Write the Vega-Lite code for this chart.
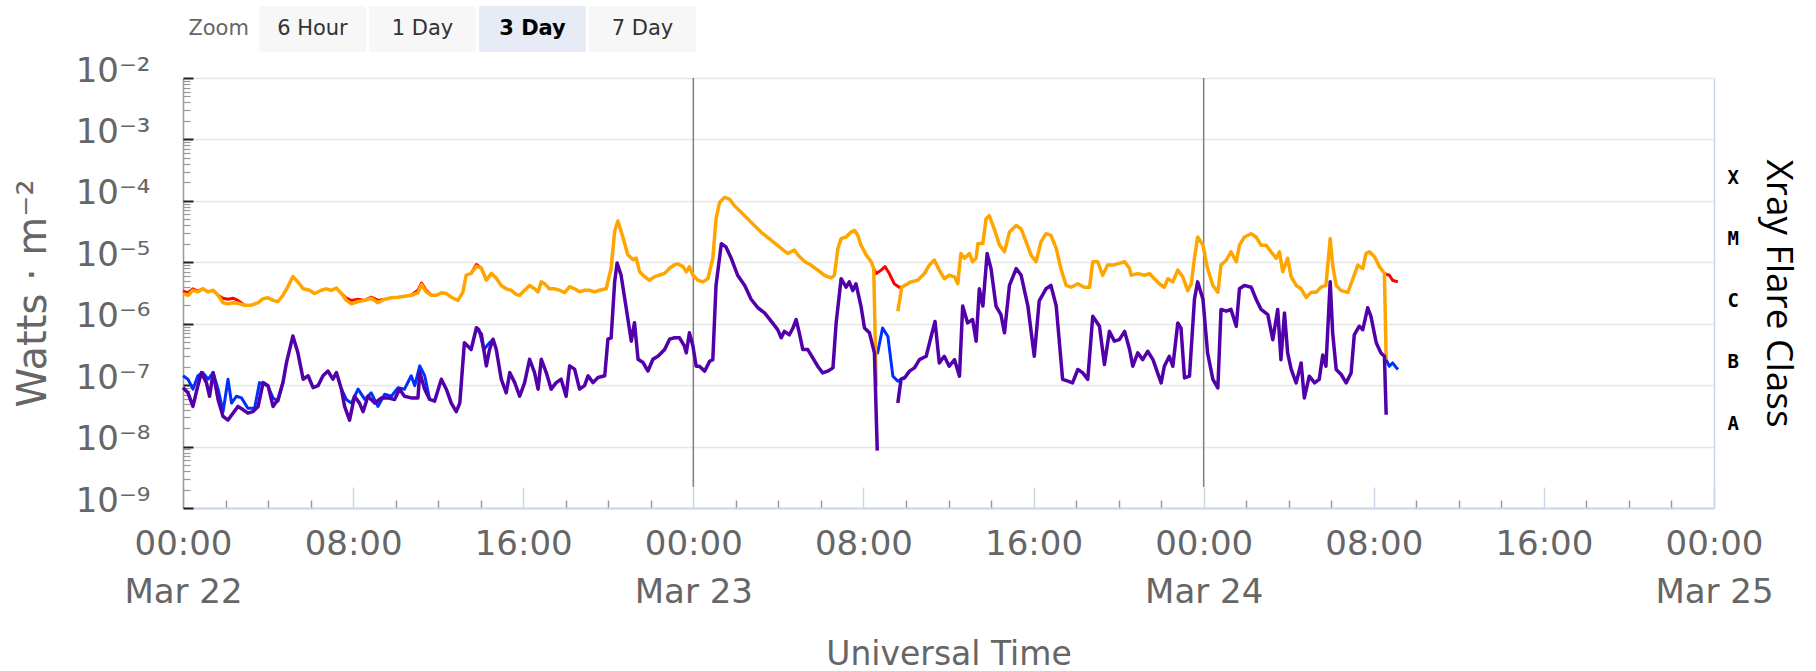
{
  "$schema": "https://vega.github.io/schema/vega-lite/v6.json",
  "autosize": {"type": "pad"},
  "padding": {"left": 13, "top": 6, "right": 15, "bottom": 0},
  "bounds": "flush",
  "spacing": 26,
  "config": {"view": {"stroke": null}, "axis": {"labelFont": "DejaVu Sans", "titleFont": "DejaVu Sans"}},
  "vconcat": [
    {
      "width": 589,
      "height": 46,
      "data": {"values": [{"b": "6 Hour", "sel": 0}, {"b": "1 Day", "sel": 0}, {"b": "3 Day", "sel": 1}, {"b": "7 Day", "sel": 0}]},
      "encoding": {"x": {"field": "b", "type": "nominal", "sort": null, "scale": {"paddingInner": 0.027, "paddingOuter": 0.69}, "axis": null}},
      "layer": [
        {"mark": {"type": "bar", "cornerRadius": 2}, "encoding": {"color": {"condition": {"test": "datum.sel == 1", "value": "#e6ebf5"}, "value": "#f7f7f7"}}},
        {"transform": [{"filter": "datum.sel == 0"}], "mark": {"type": "text", "font": "DejaVu Sans", "fontSize": 21, "color": "#333333"}, "encoding": {"text": {"field": "b"}}},
        {"transform": [{"filter": "datum.sel == 1"}], "mark": {"type": "text", "font": "DejaVu Sans", "fontSize": 21, "fontWeight": "bold", "color": "#000000"}, "encoding": {"text": {"field": "b"}}},
        {"data": {"values": [{"b": "6 Hour", "z": "Zoom"}]}, "mark": {"type": "text", "font": "DejaVu Sans", "fontSize": 21, "align": "right", "dx": -10, "color": "#666666"}, "encoding": {"x": {"field": "b", "type": "nominal", "bandPosition": 0}, "text": {"field": "z"}}}
      ]
    },
    {
      "width": 1531,
      "height": 430,
      "data": {"values": [
        {"t":"2024-03-22T00:00:00Z","v":3.1e-6,"c":"long","s":"o1"},
        {"t":"2024-03-22T00:14:00Z","v":2.9e-6,"c":"long","s":"o1"},
        {"t":"2024-03-22T00:28:00Z","v":3.5e-6,"c":"long","s":"o1"},
        {"t":"2024-03-22T00:42:00Z","v":3.3e-6,"c":"long","s":"o1"},
        {"t":"2024-03-22T00:56:00Z","v":3.7e-6,"c":"long","s":"o1"},
        {"t":"2024-03-22T01:11:00Z","v":3.3e-6,"c":"long","s":"o1"},
        {"t":"2024-03-22T01:25:00Z","v":3.5e-6,"c":"long","s":"o1"},
        {"t":"2024-03-22T01:39:00Z","v":2.9e-6,"c":"long","s":"o1"},
        {"t":"2024-03-22T01:53:00Z","v":2.2e-6,"c":"long","s":"o1"},
        {"t":"2024-03-22T02:07:00Z","v":2.1e-6,"c":"long","s":"o1"},
        {"t":"2024-03-22T02:21:00Z","v":2.2e-6,"c":"long","s":"o1"},
        {"t":"2024-03-22T02:35:00Z","v":2.15e-6,"c":"long","s":"o1"},
        {"t":"2024-03-22T02:54:00Z","v":2.0e-6,"c":"long","s":"o1"},
        {"t":"2024-03-22T03:13:00Z","v":2.0e-6,"c":"long","s":"o1"},
        {"t":"2024-03-22T03:32:00Z","v":2.2e-6,"c":"long","s":"o1"},
        {"t":"2024-03-22T03:46:00Z","v":2.55e-6,"c":"long","s":"o1"},
        {"t":"2024-03-22T04:00:00Z","v":2.65e-6,"c":"long","s":"o1"},
        {"t":"2024-03-22T04:14:00Z","v":2.4e-6,"c":"long","s":"o1"},
        {"t":"2024-03-22T04:28:00Z","v":2.3e-6,"c":"long","s":"o1"},
        {"t":"2024-03-22T04:42:00Z","v":2.9e-6,"c":"long","s":"o1"},
        {"t":"2024-03-22T04:56:00Z","v":4.0e-6,"c":"long","s":"o1"},
        {"t":"2024-03-22T05:10:00Z","v":5.85e-6,"c":"long","s":"o1"},
        {"t":"2024-03-22T05:24:00Z","v":4.8e-6,"c":"long","s":"o1"},
        {"t":"2024-03-22T05:39:00Z","v":3.7e-6,"c":"long","s":"o1"},
        {"t":"2024-03-22T05:57:00Z","v":3.5e-6,"c":"long","s":"o1"},
        {"t":"2024-03-22T06:11:00Z","v":3.1e-6,"c":"long","s":"o1"},
        {"t":"2024-03-22T06:30:00Z","v":3.5e-6,"c":"long","s":"o1"},
        {"t":"2024-03-22T06:44:00Z","v":3.7e-6,"c":"long","s":"o1"},
        {"t":"2024-03-22T06:58:00Z","v":3.5e-6,"c":"long","s":"o1"},
        {"t":"2024-03-22T07:13:00Z","v":3.8e-6,"c":"long","s":"o1"},
        {"t":"2024-03-22T07:27:00Z","v":3.1e-6,"c":"long","s":"o1"},
        {"t":"2024-03-22T07:41:00Z","v":2.4e-6,"c":"long","s":"o1"},
        {"t":"2024-03-22T07:55:00Z","v":2.1e-6,"c":"long","s":"o1"},
        {"t":"2024-03-22T08:14:00Z","v":2.3e-6,"c":"long","s":"o1"},
        {"t":"2024-03-22T08:33:00Z","v":2.4e-6,"c":"long","s":"o1"},
        {"t":"2024-03-22T08:51:00Z","v":2.6e-6,"c":"long","s":"o1"},
        {"t":"2024-03-22T09:10:00Z","v":2.2e-6,"c":"long","s":"o1"},
        {"t":"2024-03-22T09:29:00Z","v":2.5e-6,"c":"long","s":"o1"},
        {"t":"2024-03-22T09:48:00Z","v":2.65e-6,"c":"long","s":"o1"},
        {"t":"2024-03-22T10:07:00Z","v":2.7e-6,"c":"long","s":"o1"},
        {"t":"2024-03-22T10:25:00Z","v":2.8e-6,"c":"long","s":"o1"},
        {"t":"2024-03-22T10:44:00Z","v":2.9e-6,"c":"long","s":"o1"},
        {"t":"2024-03-22T11:03:00Z","v":3.2e-6,"c":"long","s":"o1"},
        {"t":"2024-03-22T11:13:00Z","v":4.35e-6,"c":"long","s":"o1"},
        {"t":"2024-03-22T11:26:00Z","v":3.3e-6,"c":"long","s":"o1"},
        {"t":"2024-03-22T11:41:00Z","v":2.9e-6,"c":"long","s":"o1"},
        {"t":"2024-03-22T11:55:00Z","v":2.9e-6,"c":"long","s":"o1"},
        {"t":"2024-03-22T12:09:00Z","v":3.2e-6,"c":"long","s":"o1"},
        {"t":"2024-03-22T12:23:00Z","v":3.1e-6,"c":"long","s":"o1"},
        {"t":"2024-03-22T12:37:00Z","v":2.7e-6,"c":"long","s":"o1"},
        {"t":"2024-03-22T12:56:00Z","v":2.4e-6,"c":"long","s":"o1"},
        {"t":"2024-03-22T13:10:00Z","v":3.3e-6,"c":"long","s":"o1"},
        {"t":"2024-03-22T13:19:00Z","v":6.2e-6,"c":"long","s":"o1"},
        {"t":"2024-03-22T13:33:00Z","v":6.6e-6,"c":"long","s":"o1"},
        {"t":"2024-03-22T13:48:00Z","v":8.6e-6,"c":"long","s":"o1"},
        {"t":"2024-03-22T14:02:00Z","v":8.0e-6,"c":"long","s":"o1"},
        {"t":"2024-03-22T14:16:00Z","v":5.1e-6,"c":"long","s":"o1"},
        {"t":"2024-03-22T14:30:00Z","v":6.6e-6,"c":"long","s":"o1"},
        {"t":"2024-03-22T14:44:00Z","v":5.5e-6,"c":"long","s":"o1"},
        {"t":"2024-03-22T14:58:00Z","v":4.2e-6,"c":"long","s":"o1"},
        {"t":"2024-03-22T15:12:00Z","v":3.7e-6,"c":"long","s":"o1"},
        {"t":"2024-03-22T15:26:00Z","v":3.5e-6,"c":"long","s":"o1"},
        {"t":"2024-03-22T15:40:00Z","v":3.0e-6,"c":"long","s":"o1"},
        {"t":"2024-03-22T15:50:00Z","v":2.9e-6,"c":"long","s":"o1"},
        {"t":"2024-03-22T16:04:00Z","v":3.5e-6,"c":"long","s":"o1"},
        {"t":"2024-03-22T16:18:00Z","v":4.2e-6,"c":"long","s":"o1"},
        {"t":"2024-03-22T16:32:00Z","v":3.7e-6,"c":"long","s":"o1"},
        {"t":"2024-03-22T16:42:00Z","v":3.3e-6,"c":"long","s":"o1"},
        {"t":"2024-03-22T16:51:00Z","v":4.8e-6,"c":"long","s":"o1"},
        {"t":"2024-03-22T17:00:00Z","v":4.5e-6,"c":"long","s":"o1"},
        {"t":"2024-03-22T17:14:00Z","v":3.7e-6,"c":"long","s":"o1"},
        {"t":"2024-03-22T17:29:00Z","v":3.7e-6,"c":"long","s":"o1"},
        {"t":"2024-03-22T17:43:00Z","v":3.5e-6,"c":"long","s":"o1"},
        {"t":"2024-03-22T17:57:00Z","v":3.2e-6,"c":"long","s":"o1"},
        {"t":"2024-03-22T18:11:00Z","v":4.0e-6,"c":"long","s":"o1"},
        {"t":"2024-03-22T18:25:00Z","v":3.7e-6,"c":"long","s":"o1"},
        {"t":"2024-03-22T18:39:00Z","v":3.3e-6,"c":"long","s":"o1"},
        {"t":"2024-03-22T18:53:00Z","v":3.5e-6,"c":"long","s":"o1"},
        {"t":"2024-03-22T19:07:00Z","v":3.5e-6,"c":"long","s":"o1"},
        {"t":"2024-03-22T19:21:00Z","v":3.3e-6,"c":"long","s":"o1"},
        {"t":"2024-03-22T19:35:00Z","v":3.5e-6,"c":"long","s":"o1"},
        {"t":"2024-03-22T19:54:00Z","v":3.7e-6,"c":"long","s":"o1"},
        {"t":"2024-03-22T20:08:00Z","v":8.0e-6,"c":"long","s":"o1"},
        {"t":"2024-03-22T20:18:00Z","v":3.2e-5,"c":"long","s":"o1"},
        {"t":"2024-03-22T20:27:00Z","v":4.7e-5,"c":"long","s":"o1"},
        {"t":"2024-03-22T20:41:00Z","v":2.6e-5,"c":"long","s":"o1"},
        {"t":"2024-03-22T20:55:00Z","v":1.33e-5,"c":"long","s":"o1"},
        {"t":"2024-03-22T21:10:00Z","v":1.1e-5,"c":"long","s":"o1"},
        {"t":"2024-03-22T21:19:00Z","v":1.17e-5,"c":"long","s":"o1"},
        {"t":"2024-03-22T21:28:00Z","v":7.1e-6,"c":"long","s":"o1"},
        {"t":"2024-03-22T21:42:00Z","v":5.85e-6,"c":"long","s":"o1"},
        {"t":"2024-03-22T21:56:00Z","v":5.1e-6,"c":"long","s":"o1"},
        {"t":"2024-03-22T22:11:00Z","v":5.85e-6,"c":"long","s":"o1"},
        {"t":"2024-03-22T22:25:00Z","v":6.2e-6,"c":"long","s":"o1"},
        {"t":"2024-03-22T22:39:00Z","v":6.6e-6,"c":"long","s":"o1"},
        {"t":"2024-03-22T22:53:00Z","v":8.0e-6,"c":"long","s":"o1"},
        {"t":"2024-03-22T23:07:00Z","v":9.1e-6,"c":"long","s":"o1"},
        {"t":"2024-03-22T23:16:00Z","v":9.4e-6,"c":"long","s":"o1"},
        {"t":"2024-03-22T23:31:00Z","v":8.5e-6,"c":"long","s":"o1"},
        {"t":"2024-03-22T23:40:00Z","v":7.0e-6,"c":"long","s":"o1"},
        {"t":"2024-03-22T23:49:00Z","v":8.5e-6,"c":"long","s":"o1"},
        {"t":"2024-03-22T23:59:00Z","v":6.15e-6,"c":"long","s":"o1"},
        {"t":"2024-03-23T00:13:00Z","v":5.1e-6,"c":"long","s":"o1"},
        {"t":"2024-03-23T00:27:00Z","v":4.8e-6,"c":"long","s":"o1"},
        {"t":"2024-03-23T00:41:00Z","v":5.4e-6,"c":"long","s":"o1"},
        {"t":"2024-03-23T00:55:00Z","v":1.16e-5,"c":"long","s":"o1"},
        {"t":"2024-03-23T01:04:00Z","v":5.1e-5,"c":"long","s":"o1"},
        {"t":"2024-03-23T01:14:00Z","v":9.4e-5,"c":"long","s":"o1"},
        {"t":"2024-03-23T01:28:00Z","v":1.14e-4,"c":"long","s":"o1"},
        {"t":"2024-03-23T01:42:00Z","v":1.07e-4,"c":"long","s":"o1"},
        {"t":"2024-03-23T01:56:00Z","v":8.3e-5,"c":"long","s":"o1"},
        {"t":"2024-03-23T02:15:00Z","v":6.5e-5,"c":"long","s":"o1"},
        {"t":"2024-03-23T02:43:00Z","v":4.5e-5,"c":"long","s":"o1"},
        {"t":"2024-03-23T03:11:00Z","v":3.1e-5,"c":"long","s":"o1"},
        {"t":"2024-03-23T03:40:00Z","v":2.28e-5,"c":"long","s":"o1"},
        {"t":"2024-03-23T04:08:00Z","v":1.68e-5,"c":"long","s":"o1"},
        {"t":"2024-03-23T04:26:00Z","v":1.39e-5,"c":"long","s":"o1"},
        {"t":"2024-03-23T04:45:00Z","v":1.58e-5,"c":"long","s":"o1"},
        {"t":"2024-03-23T04:55:00Z","v":1.31e-5,"c":"long","s":"o1"},
        {"t":"2024-03-23T05:14:00Z","v":1.03e-5,"c":"long","s":"o1"},
        {"t":"2024-03-23T05:32:00Z","v":9.0e-6,"c":"long","s":"o1"},
        {"t":"2024-03-23T05:51:00Z","v":7.45e-6,"c":"long","s":"o1"},
        {"t":"2024-03-23T06:10:00Z","v":6.15e-6,"c":"long","s":"o1"},
        {"t":"2024-03-23T06:29:00Z","v":5.55e-6,"c":"long","s":"o1"},
        {"t":"2024-03-23T06:38:00Z","v":6.15e-6,"c":"long","s":"o1"},
        {"t":"2024-03-23T06:48:00Z","v":1.68e-5,"c":"long","s":"o1"},
        {"t":"2024-03-23T06:57:00Z","v":2.43e-5,"c":"long","s":"o1"},
        {"t":"2024-03-23T07:11:00Z","v":2.58e-5,"c":"long","s":"o1"},
        {"t":"2024-03-23T07:25:00Z","v":3.1e-5,"c":"long","s":"o1"},
        {"t":"2024-03-23T07:35:00Z","v":3.3e-5,"c":"long","s":"o1"},
        {"t":"2024-03-23T07:44:00Z","v":2.75e-5,"c":"long","s":"o1"},
        {"t":"2024-03-23T07:53:00Z","v":1.9e-5,"c":"long","s":"o1"},
        {"t":"2024-03-23T08:08:00Z","v":1.31e-5,"c":"long","s":"o1"},
        {"t":"2024-03-23T08:22:00Z","v":1.02e-5,"c":"long","s":"o1"},
        {"t":"2024-03-23T08:29:00Z","v":7.9e-6,"c":"long","s":"o1"},
        {"t":"2024-03-23T08:36:00Z","v":9.6e-8,"c":"long","s":"o1"},
        {"t":"2024-03-23T09:37:00Z","v":1.6e-6,"c":"long","s":"o2"},
        {"t":"2024-03-23T09:48:00Z","v":3.93e-6,"c":"long","s":"o2"},
        {"t":"2024-03-23T09:56:00Z","v":4.2e-6,"c":"long","s":"o2"},
        {"t":"2024-03-23T10:14:00Z","v":4.8e-6,"c":"long","s":"o2"},
        {"t":"2024-03-23T10:33:00Z","v":5.1e-6,"c":"long","s":"o2"},
        {"t":"2024-03-23T10:52:00Z","v":6.55e-6,"c":"long","s":"o2"},
        {"t":"2024-03-23T11:06:00Z","v":9.0e-6,"c":"long","s":"o2"},
        {"t":"2024-03-23T11:20:00Z","v":1.09e-5,"c":"long","s":"o2"},
        {"t":"2024-03-23T11:34:00Z","v":7.45e-6,"c":"long","s":"o2"},
        {"t":"2024-03-23T11:48:00Z","v":5.4e-6,"c":"long","s":"o2"},
        {"t":"2024-03-23T12:02:00Z","v":6.15e-6,"c":"long","s":"o2"},
        {"t":"2024-03-23T12:17:00Z","v":5.8e-6,"c":"long","s":"o2"},
        {"t":"2024-03-23T12:26:00Z","v":4.47e-6,"c":"long","s":"o2"},
        {"t":"2024-03-23T12:35:00Z","v":1.39e-5,"c":"long","s":"o2"},
        {"t":"2024-03-23T12:45:00Z","v":1.16e-5,"c":"long","s":"o2"},
        {"t":"2024-03-23T12:59:00Z","v":1.39e-5,"c":"long","s":"o2"},
        {"t":"2024-03-23T13:08:00Z","v":1.02e-5,"c":"long","s":"o2"},
        {"t":"2024-03-23T13:18:00Z","v":1.16e-5,"c":"long","s":"o2"},
        {"t":"2024-03-23T13:23:00Z","v":2.02e-5,"c":"long","s":"o2"},
        {"t":"2024-03-23T13:37:00Z","v":2.02e-5,"c":"long","s":"o2"},
        {"t":"2024-03-23T13:46:00Z","v":5.1e-5,"c":"long","s":"o2"},
        {"t":"2024-03-23T13:55:00Z","v":5.75e-5,"c":"long","s":"o2"},
        {"t":"2024-03-23T14:09:00Z","v":3.5e-5,"c":"long","s":"o2"},
        {"t":"2024-03-23T14:24:00Z","v":1.9e-5,"c":"long","s":"o2"},
        {"t":"2024-03-23T14:38:00Z","v":1.48e-5,"c":"long","s":"o2"},
        {"t":"2024-03-23T14:52:00Z","v":3.1e-5,"c":"long","s":"o2"},
        {"t":"2024-03-23T15:11:00Z","v":3.97e-5,"c":"long","s":"o2"},
        {"t":"2024-03-23T15:25:00Z","v":3.5e-5,"c":"long","s":"o2"},
        {"t":"2024-03-23T15:39:00Z","v":2.15e-5,"c":"long","s":"o2"},
        {"t":"2024-03-23T15:53:00Z","v":1.31e-5,"c":"long","s":"o2"},
        {"t":"2024-03-23T16:07:00Z","v":1.02e-5,"c":"long","s":"o2"},
        {"t":"2024-03-23T16:21:00Z","v":2.15e-5,"c":"long","s":"o2"},
        {"t":"2024-03-23T16:35:00Z","v":2.92e-5,"c":"long","s":"o2"},
        {"t":"2024-03-23T16:49:00Z","v":2.75e-5,"c":"long","s":"o2"},
        {"t":"2024-03-23T17:04:00Z","v":1.68e-5,"c":"long","s":"o2"},
        {"t":"2024-03-23T17:17:00Z","v":7.9e-6,"c":"long","s":"o2"},
        {"t":"2024-03-23T17:32:00Z","v":4.2e-6,"c":"long","s":"o2"},
        {"t":"2024-03-23T17:46:00Z","v":3.93e-6,"c":"long","s":"o2"},
        {"t":"2024-03-23T18:05:00Z","v":4.47e-6,"c":"long","s":"o2"},
        {"t":"2024-03-23T18:23:00Z","v":3.93e-6,"c":"long","s":"o2"},
        {"t":"2024-03-23T18:38:00Z","v":3.93e-6,"c":"long","s":"o2"},
        {"t":"2024-03-23T18:47:00Z","v":1.02e-5,"c":"long","s":"o2"},
        {"t":"2024-03-23T19:01:00Z","v":1.02e-5,"c":"long","s":"o2"},
        {"t":"2024-03-23T19:15:00Z","v":6.15e-6,"c":"long","s":"o2"},
        {"t":"2024-03-23T19:29:00Z","v":9.0e-6,"c":"long","s":"o2"},
        {"t":"2024-03-23T19:44:00Z","v":9.0e-6,"c":"long","s":"o2"},
        {"t":"2024-03-23T20:02:00Z","v":9.6e-6,"c":"long","s":"o2"},
        {"t":"2024-03-23T20:17:00Z","v":1.02e-5,"c":"long","s":"o2"},
        {"t":"2024-03-23T20:31:00Z","v":7.9e-6,"c":"long","s":"o2"},
        {"t":"2024-03-23T20:35:00Z","v":6.15e-6,"c":"long","s":"o2"},
        {"t":"2024-03-23T20:54:00Z","v":6.55e-6,"c":"long","s":"o2"},
        {"t":"2024-03-23T21:13:00Z","v":6.15e-6,"c":"long","s":"o2"},
        {"t":"2024-03-23T21:27:00Z","v":6.55e-6,"c":"long","s":"o2"},
        {"t":"2024-03-23T21:41:00Z","v":5.4e-6,"c":"long","s":"o2"},
        {"t":"2024-03-23T21:55:00Z","v":4.47e-6,"c":"long","s":"o2"},
        {"t":"2024-03-23T22:09:00Z","v":3.93e-6,"c":"long","s":"o2"},
        {"t":"2024-03-23T22:19:00Z","v":5.4e-6,"c":"long","s":"o2"},
        {"t":"2024-03-23T22:33:00Z","v":4.8e-6,"c":"long","s":"o2"},
        {"t":"2024-03-23T22:47:00Z","v":7.45e-6,"c":"long","s":"o2"},
        {"t":"2024-03-23T23:01:00Z","v":5.8e-6,"c":"long","s":"o2"},
        {"t":"2024-03-23T23:15:00Z","v":3.46e-6,"c":"long","s":"o2"},
        {"t":"2024-03-23T23:25:00Z","v":4.47e-6,"c":"long","s":"o2"},
        {"t":"2024-03-23T23:34:00Z","v":1.16e-5,"c":"long","s":"o2"},
        {"t":"2024-03-23T23:43:00Z","v":2.58e-5,"c":"long","s":"o2"},
        {"t":"2024-03-23T23:58:00Z","v":1.9e-5,"c":"long","s":"o2"},
        {"t":"2024-03-24T00:11:00Z","v":7.9e-6,"c":"long","s":"o2"},
        {"t":"2024-03-24T00:26:00Z","v":4.2e-6,"c":"long","s":"o2"},
        {"t":"2024-03-24T00:40:00Z","v":3.24e-6,"c":"long","s":"o2"},
        {"t":"2024-03-24T00:49:00Z","v":9.0e-6,"c":"long","s":"o2"},
        {"t":"2024-03-24T01:04:00Z","v":1.09e-5,"c":"long","s":"o2"},
        {"t":"2024-03-24T01:17:00Z","v":1.48e-5,"c":"long","s":"o2"},
        {"t":"2024-03-24T01:32:00Z","v":1.02e-5,"c":"long","s":"o2"},
        {"t":"2024-03-24T01:41:00Z","v":1.9e-5,"c":"long","s":"o2"},
        {"t":"2024-03-24T01:55:00Z","v":2.58e-5,"c":"long","s":"o2"},
        {"t":"2024-03-24T02:14:00Z","v":2.92e-5,"c":"long","s":"o2"},
        {"t":"2024-03-24T02:28:00Z","v":2.58e-5,"c":"long","s":"o2"},
        {"t":"2024-03-24T02:42:00Z","v":1.9e-5,"c":"long","s":"o2"},
        {"t":"2024-03-24T02:56:00Z","v":1.9e-5,"c":"long","s":"o2"},
        {"t":"2024-03-24T03:10:00Z","v":1.48e-5,"c":"long","s":"o2"},
        {"t":"2024-03-24T03:25:00Z","v":1.16e-5,"c":"long","s":"o2"},
        {"t":"2024-03-24T03:34:00Z","v":1.48e-5,"c":"long","s":"o2"},
        {"t":"2024-03-24T03:43:00Z","v":7.0e-6,"c":"long","s":"o2"},
        {"t":"2024-03-24T03:57:00Z","v":1.16e-5,"c":"long","s":"o2"},
        {"t":"2024-03-24T04:07:00Z","v":5.8e-6,"c":"long","s":"o2"},
        {"t":"2024-03-24T04:21:00Z","v":4.2e-6,"c":"long","s":"o2"},
        {"t":"2024-03-24T04:35:00Z","v":3.7e-6,"c":"long","s":"o2"},
        {"t":"2024-03-24T04:49:00Z","v":2.68e-6,"c":"long","s":"o2"},
        {"t":"2024-03-24T05:03:00Z","v":3.24e-6,"c":"long","s":"o2"},
        {"t":"2024-03-24T05:17:00Z","v":3.24e-6,"c":"long","s":"o2"},
        {"t":"2024-03-24T05:31:00Z","v":3.93e-6,"c":"long","s":"o2"},
        {"t":"2024-03-24T05:45:00Z","v":4.2e-6,"c":"long","s":"o2"},
        {"t":"2024-03-24T05:57:00Z","v":2.43e-5,"c":"long","s":"o2"},
        {"t":"2024-03-24T06:04:00Z","v":9.0e-6,"c":"long","s":"o2"},
        {"t":"2024-03-24T06:14:00Z","v":4.2e-6,"c":"long","s":"o2"},
        {"t":"2024-03-24T06:28:00Z","v":3.46e-6,"c":"long","s":"o2"},
        {"t":"2024-03-24T06:47:00Z","v":3.24e-6,"c":"long","s":"o2"},
        {"t":"2024-03-24T07:01:00Z","v":5.4e-6,"c":"long","s":"o2"},
        {"t":"2024-03-24T07:15:00Z","v":9.0e-6,"c":"long","s":"o2"},
        {"t":"2024-03-24T07:29:00Z","v":7.9e-6,"c":"long","s":"o2"},
        {"t":"2024-03-24T07:38:00Z","v":1.39e-5,"c":"long","s":"o2"},
        {"t":"2024-03-24T07:48:00Z","v":1.48e-5,"c":"long","s":"o2"},
        {"t":"2024-03-24T08:02:00Z","v":1.23e-5,"c":"long","s":"o2"},
        {"t":"2024-03-24T08:16:00Z","v":8.5e-6,"c":"long","s":"o2"},
        {"t":"2024-03-24T08:30:00Z","v":6.55e-6,"c":"long","s":"o2"},
        {"t":"2024-03-24T08:35:00Z","v":2.6e-7,"c":"long","s":"o2"},

        {"t":"2024-03-22T00:00:00Z","v":9.1e-8,"c":"short","s":"p1"},
        {"t":"2024-03-22T00:14:00Z","v":7.5e-8,"c":"short","s":"p1"},
        {"t":"2024-03-22T00:28:00Z","v":4.5e-8,"c":"short","s":"p1"},
        {"t":"2024-03-22T00:42:00Z","v":9.8e-8,"c":"short","s":"p1"},
        {"t":"2024-03-22T00:52:00Z","v":1.6e-7,"c":"short","s":"p1"},
        {"t":"2024-03-22T01:06:00Z","v":1.1e-7,"c":"short","s":"p1"},
        {"t":"2024-03-22T01:15:00Z","v":6.6e-8,"c":"short","s":"p1"},
        {"t":"2024-03-22T01:25:00Z","v":1.6e-7,"c":"short","s":"p1"},
        {"t":"2024-03-22T01:39:00Z","v":5.85e-8,"c":"short","s":"p1"},
        {"t":"2024-03-22T01:53:00Z","v":3.1e-8,"c":"short","s":"p1"},
        {"t":"2024-03-22T02:07:00Z","v":2.7e-8,"c":"short","s":"p1"},
        {"t":"2024-03-22T02:21:00Z","v":3.5e-8,"c":"short","s":"p1"},
        {"t":"2024-03-22T02:35:00Z","v":4.5e-8,"c":"short","s":"p1"},
        {"t":"2024-03-22T02:49:00Z","v":4.0e-8,"c":"short","s":"p1"},
        {"t":"2024-03-22T03:03:00Z","v":3.5e-8,"c":"short","s":"p1"},
        {"t":"2024-03-22T03:17:00Z","v":3.7e-8,"c":"short","s":"p1"},
        {"t":"2024-03-22T03:32:00Z","v":4.5e-8,"c":"short","s":"p1"},
        {"t":"2024-03-22T03:46:00Z","v":1.1e-7,"c":"short","s":"p1"},
        {"t":"2024-03-22T04:00:00Z","v":9.8e-8,"c":"short","s":"p1"},
        {"t":"2024-03-22T04:14:00Z","v":4.5e-8,"c":"short","s":"p1"},
        {"t":"2024-03-22T04:28:00Z","v":5.85e-8,"c":"short","s":"p1"},
        {"t":"2024-03-22T04:42:00Z","v":1.1e-7,"c":"short","s":"p1"},
        {"t":"2024-03-22T04:52:00Z","v":2.33e-7,"c":"short","s":"p1"},
        {"t":"2024-03-22T05:10:00Z","v":6.3e-7,"c":"short","s":"p1"},
        {"t":"2024-03-22T05:24:00Z","v":3.4e-7,"c":"short","s":"p1"},
        {"t":"2024-03-22T05:39:00Z","v":1.25e-7,"c":"short","s":"p1"},
        {"t":"2024-03-22T05:53:00Z","v":1.42e-7,"c":"short","s":"p1"},
        {"t":"2024-03-22T06:07:00Z","v":9.1e-8,"c":"short","s":"p1"},
        {"t":"2024-03-22T06:21:00Z","v":9.8e-8,"c":"short","s":"p1"},
        {"t":"2024-03-22T06:35:00Z","v":1.42e-7,"c":"short","s":"p1"},
        {"t":"2024-03-22T06:49:00Z","v":1.7e-7,"c":"short","s":"p1"},
        {"t":"2024-03-22T07:03:00Z","v":1.25e-7,"c":"short","s":"p1"},
        {"t":"2024-03-22T07:13:00Z","v":1.6e-7,"c":"short","s":"p1"},
        {"t":"2024-03-22T07:27:00Z","v":8.6e-8,"c":"short","s":"p1"},
        {"t":"2024-03-22T07:36:00Z","v":4.5e-8,"c":"short","s":"p1"},
        {"t":"2024-03-22T07:50:00Z","v":2.7e-8,"c":"short","s":"p1"},
        {"t":"2024-03-22T08:04:00Z","v":6.6e-8,"c":"short","s":"p1"},
        {"t":"2024-03-22T08:18:00Z","v":5.1e-8,"c":"short","s":"p1"},
        {"t":"2024-03-22T08:28:00Z","v":3.7e-8,"c":"short","s":"p1"},
        {"t":"2024-03-22T08:42:00Z","v":6.6e-8,"c":"short","s":"p1"},
        {"t":"2024-03-22T09:01:00Z","v":5.1e-8,"c":"short","s":"p1"},
        {"t":"2024-03-22T09:20:00Z","v":6.2e-8,"c":"short","s":"p1"},
        {"t":"2024-03-22T09:38:00Z","v":6.2e-8,"c":"short","s":"p1"},
        {"t":"2024-03-22T09:57:00Z","v":5.85e-8,"c":"short","s":"p1"},
        {"t":"2024-03-22T10:11:00Z","v":8.6e-8,"c":"short","s":"p1"},
        {"t":"2024-03-22T10:25:00Z","v":6.6e-8,"c":"short","s":"p1"},
        {"t":"2024-03-22T10:44:00Z","v":6.2e-8,"c":"short","s":"p1"},
        {"t":"2024-03-22T11:03:00Z","v":6.2e-8,"c":"short","s":"p1"},
        {"t":"2024-03-22T11:08:00Z","v":1.6e-7,"c":"short","s":"p1"},
        {"t":"2024-03-22T11:22:00Z","v":8.6e-8,"c":"short","s":"p1"},
        {"t":"2024-03-22T11:36:00Z","v":5.85e-8,"c":"short","s":"p1"},
        {"t":"2024-03-22T11:50:00Z","v":5.5e-8,"c":"short","s":"p1"},
        {"t":"2024-03-22T12:09:00Z","v":1.25e-7,"c":"short","s":"p1"},
        {"t":"2024-03-22T12:23:00Z","v":8.6e-8,"c":"short","s":"p1"},
        {"t":"2024-03-22T12:37:00Z","v":5.1e-8,"c":"short","s":"p1"},
        {"t":"2024-03-22T12:51:00Z","v":3.7e-8,"c":"short","s":"p1"},
        {"t":"2024-03-22T13:01:00Z","v":5.1e-8,"c":"short","s":"p1"},
        {"t":"2024-03-22T13:14:00Z","v":4.9e-7,"c":"short","s":"p1"},
        {"t":"2024-03-22T13:33:00Z","v":3.8e-7,"c":"short","s":"p1"},
        {"t":"2024-03-22T13:48:00Z","v":8.6e-7,"c":"short","s":"p1"},
        {"t":"2024-03-22T14:02:00Z","v":6.7e-7,"c":"short","s":"p1"},
        {"t":"2024-03-22T14:16:00Z","v":2.06e-7,"c":"short","s":"p1"},
        {"t":"2024-03-22T14:25:00Z","v":3.8e-7,"c":"short","s":"p1"},
        {"t":"2024-03-22T14:35:00Z","v":5.6e-7,"c":"short","s":"p1"},
        {"t":"2024-03-22T14:44:00Z","v":3.8e-7,"c":"short","s":"p1"},
        {"t":"2024-03-22T14:58:00Z","v":1.25e-7,"c":"short","s":"p1"},
        {"t":"2024-03-22T15:12:00Z","v":7.5e-8,"c":"short","s":"p1"},
        {"t":"2024-03-22T15:22:00Z","v":1.6e-7,"c":"short","s":"p1"},
        {"t":"2024-03-22T15:36:00Z","v":1.1e-7,"c":"short","s":"p1"},
        {"t":"2024-03-22T15:50:00Z","v":6.6e-8,"c":"short","s":"p1"},
        {"t":"2024-03-22T16:04:00Z","v":1.1e-7,"c":"short","s":"p1"},
        {"t":"2024-03-22T16:18:00Z","v":2.64e-7,"c":"short","s":"p1"},
        {"t":"2024-03-22T16:32:00Z","v":1.6e-7,"c":"short","s":"p1"},
        {"t":"2024-03-22T16:42:00Z","v":8.6e-8,"c":"short","s":"p1"},
        {"t":"2024-03-22T16:51:00Z","v":2.64e-7,"c":"short","s":"p1"},
        {"t":"2024-03-22T17:05:00Z","v":1.6e-7,"c":"short","s":"p1"},
        {"t":"2024-03-22T17:19:00Z","v":8.6e-8,"c":"short","s":"p1"},
        {"t":"2024-03-22T17:33:00Z","v":1.1e-7,"c":"short","s":"p1"},
        {"t":"2024-03-22T17:47:00Z","v":1.25e-7,"c":"short","s":"p1"},
        {"t":"2024-03-22T18:01:00Z","v":6.6e-8,"c":"short","s":"p1"},
        {"t":"2024-03-22T18:11:00Z","v":2.06e-7,"c":"short","s":"p1"},
        {"t":"2024-03-22T18:25:00Z","v":1.82e-7,"c":"short","s":"p1"},
        {"t":"2024-03-22T18:39:00Z","v":8.6e-8,"c":"short","s":"p1"},
        {"t":"2024-03-22T18:53:00Z","v":9.8e-8,"c":"short","s":"p1"},
        {"t":"2024-03-22T19:03:00Z","v":1.42e-7,"c":"short","s":"p1"},
        {"t":"2024-03-22T19:17:00Z","v":1.1e-7,"c":"short","s":"p1"},
        {"t":"2024-03-22T19:31:00Z","v":1.33e-7,"c":"short","s":"p1"},
        {"t":"2024-03-22T19:50:00Z","v":1.42e-7,"c":"short","s":"p1"},
        {"t":"2024-03-22T19:59:00Z","v":5.6e-7,"c":"short","s":"p1"},
        {"t":"2024-03-22T20:08:00Z","v":5.9e-7,"c":"short","s":"p1"},
        {"t":"2024-03-22T20:18:00Z","v":4.8e-6,"c":"short","s":"p1"},
        {"t":"2024-03-22T20:25:00Z","v":9.7e-6,"c":"short","s":"p1"},
        {"t":"2024-03-22T20:36:00Z","v":6.2e-6,"c":"short","s":"p1"},
        {"t":"2024-03-22T20:51:00Z","v":1.73e-6,"c":"short","s":"p1"},
        {"t":"2024-03-22T21:05:00Z","v":5.2e-7,"c":"short","s":"p1"},
        {"t":"2024-03-22T21:14:00Z","v":1.04e-6,"c":"short","s":"p1"},
        {"t":"2024-03-22T21:24:00Z","v":2.64e-7,"c":"short","s":"p1"},
        {"t":"2024-03-22T21:38:00Z","v":2.33e-7,"c":"short","s":"p1"},
        {"t":"2024-03-22T21:52:00Z","v":1.7e-7,"c":"short","s":"p1"},
        {"t":"2024-03-22T22:06:00Z","v":2.64e-7,"c":"short","s":"p1"},
        {"t":"2024-03-22T22:21:00Z","v":2.99e-7,"c":"short","s":"p1"},
        {"t":"2024-03-22T22:39:00Z","v":3.8e-7,"c":"short","s":"p1"},
        {"t":"2024-03-22T22:53:00Z","v":5.6e-7,"c":"short","s":"p1"},
        {"t":"2024-03-22T23:07:00Z","v":5.9e-7,"c":"short","s":"p1"},
        {"t":"2024-03-22T23:21:00Z","v":5.9e-7,"c":"short","s":"p1"},
        {"t":"2024-03-22T23:35:00Z","v":4.3e-7,"c":"short","s":"p1"},
        {"t":"2024-03-22T23:40:00Z","v":3.35e-7,"c":"short","s":"p1"},
        {"t":"2024-03-22T23:49:00Z","v":7.1e-7,"c":"short","s":"p1"},
        {"t":"2024-03-22T23:59:00Z","v":4.3e-7,"c":"short","s":"p1"},
        {"t":"2024-03-23T00:08:00Z","v":2.03e-7,"c":"short","s":"p1"},
        {"t":"2024-03-23T00:17:00Z","v":2.03e-7,"c":"short","s":"p1"},
        {"t":"2024-03-23T00:32:00Z","v":1.69e-7,"c":"short","s":"p1"},
        {"t":"2024-03-23T00:46:00Z","v":2.45e-7,"c":"short","s":"p1"},
        {"t":"2024-03-23T00:55:00Z","v":2.6e-7,"c":"short","s":"p1"},
        {"t":"2024-03-23T01:04:00Z","v":4.2e-6,"c":"short","s":"p1"},
        {"t":"2024-03-23T01:19:00Z","v":2.0e-5,"c":"short","s":"p1"},
        {"t":"2024-03-23T01:32:00Z","v":1.78e-5,"c":"short","s":"p1"},
        {"t":"2024-03-23T01:47:00Z","v":1.16e-5,"c":"short","s":"p1"},
        {"t":"2024-03-23T02:05:00Z","v":6.15e-6,"c":"short","s":"p1"},
        {"t":"2024-03-23T02:25:00Z","v":4.2e-6,"c":"short","s":"p1"},
        {"t":"2024-03-23T02:43:00Z","v":2.5e-6,"c":"short","s":"p1"},
        {"t":"2024-03-23T03:02:00Z","v":1.82e-6,"c":"short","s":"p1"},
        {"t":"2024-03-23T03:21:00Z","v":1.5e-6,"c":"short","s":"p1"},
        {"t":"2024-03-23T03:40:00Z","v":1.09e-6,"c":"short","s":"p1"},
        {"t":"2024-03-23T03:58:00Z","v":8.0e-7,"c":"short","s":"p1"},
        {"t":"2024-03-23T04:08:00Z","v":5.9e-7,"c":"short","s":"p1"},
        {"t":"2024-03-23T04:17:00Z","v":7.5e-7,"c":"short","s":"p1"},
        {"t":"2024-03-23T04:31:00Z","v":6.6e-7,"c":"short","s":"p1"},
        {"t":"2024-03-23T04:41:00Z","v":8.5e-7,"c":"short","s":"p1"},
        {"t":"2024-03-23T04:50:00Z","v":1.17e-6,"c":"short","s":"p1"},
        {"t":"2024-03-23T04:59:00Z","v":7.1e-7,"c":"short","s":"p1"},
        {"t":"2024-03-23T05:09:00Z","v":3.8e-7,"c":"short","s":"p1"},
        {"t":"2024-03-23T05:23:00Z","v":3.8e-7,"c":"short","s":"p1"},
        {"t":"2024-03-23T05:37:00Z","v":2.77e-7,"c":"short","s":"p1"},
        {"t":"2024-03-23T05:51:00Z","v":2.03e-7,"c":"short","s":"p1"},
        {"t":"2024-03-23T06:05:00Z","v":1.58e-7,"c":"short","s":"p1"},
        {"t":"2024-03-23T06:19:00Z","v":1.69e-7,"c":"short","s":"p1"},
        {"t":"2024-03-23T06:34:00Z","v":1.91e-7,"c":"short","s":"p1"},
        {"t":"2024-03-23T06:43:00Z","v":1.03e-6,"c":"short","s":"p1"},
        {"t":"2024-03-23T06:57:00Z","v":5.4e-6,"c":"short","s":"p1"},
        {"t":"2024-03-23T07:11:00Z","v":3.93e-6,"c":"short","s":"p1"},
        {"t":"2024-03-23T07:20:00Z","v":4.8e-6,"c":"short","s":"p1"},
        {"t":"2024-03-23T07:30:00Z","v":3.46e-6,"c":"short","s":"p1"},
        {"t":"2024-03-23T07:39:00Z","v":4.47e-6,"c":"short","s":"p1"},
        {"t":"2024-03-23T07:53:00Z","v":1.94e-6,"c":"short","s":"p1"},
        {"t":"2024-03-23T08:03:00Z","v":8.5e-7,"c":"short","s":"p1"},
        {"t":"2024-03-23T08:17:00Z","v":7.1e-7,"c":"short","s":"p1"},
        {"t":"2024-03-23T08:31:00Z","v":3.35e-7,"c":"short","s":"p1"},
        {"t":"2024-03-23T08:39:00Z","v":8.6e-9,"c":"short","s":"p1"},
        {"t":"2024-03-23T09:37:00Z","v":5.1e-8,"c":"short","s":"p2"},
        {"t":"2024-03-23T09:46:00Z","v":1.24e-7,"c":"short","s":"p2"},
        {"t":"2024-03-23T09:56:00Z","v":1.31e-7,"c":"short","s":"p2"},
        {"t":"2024-03-23T10:10:00Z","v":1.69e-7,"c":"short","s":"p2"},
        {"t":"2024-03-23T10:24:00Z","v":1.91e-7,"c":"short","s":"p2"},
        {"t":"2024-03-23T10:38:00Z","v":2.6e-7,"c":"short","s":"p2"},
        {"t":"2024-03-23T10:57:00Z","v":2.95e-7,"c":"short","s":"p2"},
        {"t":"2024-03-23T11:11:00Z","v":6.2e-7,"c":"short","s":"p2"},
        {"t":"2024-03-23T11:22:00Z","v":1.09e-6,"c":"short","s":"p2"},
        {"t":"2024-03-23T11:34:00Z","v":2.3e-7,"c":"short","s":"p2"},
        {"t":"2024-03-23T11:48:00Z","v":2.95e-7,"c":"short","s":"p2"},
        {"t":"2024-03-23T12:02:00Z","v":2.03e-7,"c":"short","s":"p2"},
        {"t":"2024-03-23T12:17:00Z","v":2.6e-7,"c":"short","s":"p2"},
        {"t":"2024-03-23T12:31:00Z","v":1.4e-7,"c":"short","s":"p2"},
        {"t":"2024-03-23T12:40:00Z","v":1.94e-6,"c":"short","s":"p2"},
        {"t":"2024-03-23T12:54:00Z","v":1.03e-6,"c":"short","s":"p2"},
        {"t":"2024-03-23T13:08:00Z","v":1.17e-6,"c":"short","s":"p2"},
        {"t":"2024-03-23T13:18:00Z","v":5.2e-7,"c":"short","s":"p2"},
        {"t":"2024-03-23T13:27:00Z","v":3.7e-6,"c":"short","s":"p2"},
        {"t":"2024-03-23T13:37:00Z","v":1.94e-6,"c":"short","s":"p2"},
        {"t":"2024-03-23T13:49:00Z","v":1.39e-5,"c":"short","s":"p2"},
        {"t":"2024-03-23T14:00:00Z","v":7.9e-6,"c":"short","s":"p2"},
        {"t":"2024-03-23T14:14:00Z","v":1.94e-6,"c":"short","s":"p2"},
        {"t":"2024-03-23T14:28:00Z","v":1.41e-6,"c":"short","s":"p2"},
        {"t":"2024-03-23T14:38:00Z","v":7.1e-7,"c":"short","s":"p2"},
        {"t":"2024-03-23T14:52:00Z","v":4.2e-6,"c":"short","s":"p2"},
        {"t":"2024-03-23T15:11:00Z","v":7.9e-6,"c":"short","s":"p2"},
        {"t":"2024-03-23T15:25:00Z","v":6.15e-6,"c":"short","s":"p2"},
        {"t":"2024-03-23T15:44:00Z","v":1.94e-6,"c":"short","s":"p2"},
        {"t":"2024-03-23T16:02:00Z","v":2.95e-7,"c":"short","s":"p2"},
        {"t":"2024-03-23T16:16:00Z","v":2.36e-6,"c":"short","s":"p2"},
        {"t":"2024-03-23T16:35:00Z","v":3.7e-6,"c":"short","s":"p2"},
        {"t":"2024-03-23T16:49:00Z","v":4.2e-6,"c":"short","s":"p2"},
        {"t":"2024-03-23T17:04:00Z","v":1.94e-6,"c":"short","s":"p2"},
        {"t":"2024-03-23T17:22:00Z","v":1.24e-7,"c":"short","s":"p2"},
        {"t":"2024-03-23T17:37:00Z","v":1.16e-7,"c":"short","s":"p2"},
        {"t":"2024-03-23T17:50:00Z","v":1.09e-7,"c":"short","s":"p2"},
        {"t":"2024-03-23T18:05:00Z","v":1.8e-7,"c":"short","s":"p2"},
        {"t":"2024-03-23T18:19:00Z","v":1.58e-7,"c":"short","s":"p2"},
        {"t":"2024-03-23T18:33:00Z","v":1.24e-7,"c":"short","s":"p2"},
        {"t":"2024-03-23T18:47:00Z","v":1.32e-6,"c":"short","s":"p2"},
        {"t":"2024-03-23T19:06:00Z","v":9.1e-7,"c":"short","s":"p2"},
        {"t":"2024-03-23T19:20:00Z","v":2.16e-7,"c":"short","s":"p2"},
        {"t":"2024-03-23T19:34:00Z","v":7.5e-7,"c":"short","s":"p2"},
        {"t":"2024-03-23T19:48:00Z","v":5.2e-7,"c":"short","s":"p2"},
        {"t":"2024-03-23T20:02:00Z","v":5.5e-7,"c":"short","s":"p2"},
        {"t":"2024-03-23T20:17:00Z","v":7.5e-7,"c":"short","s":"p2"},
        {"t":"2024-03-23T20:31:00Z","v":3.8e-7,"c":"short","s":"p2"},
        {"t":"2024-03-23T20:40:00Z","v":2.03e-7,"c":"short","s":"p2"},
        {"t":"2024-03-23T20:54:00Z","v":3.35e-7,"c":"short","s":"p2"},
        {"t":"2024-03-23T21:08:00Z","v":2.6e-7,"c":"short","s":"p2"},
        {"t":"2024-03-23T21:22:00Z","v":3.56e-7,"c":"short","s":"p2"},
        {"t":"2024-03-23T21:37:00Z","v":2.6e-7,"c":"short","s":"p2"},
        {"t":"2024-03-23T21:50:00Z","v":1.58e-7,"c":"short","s":"p2"},
        {"t":"2024-03-23T22:00:00Z","v":1.09e-7,"c":"short","s":"p2"},
        {"t":"2024-03-23T22:09:00Z","v":2.03e-7,"c":"short","s":"p2"},
        {"t":"2024-03-23T22:23:00Z","v":2.95e-7,"c":"short","s":"p2"},
        {"t":"2024-03-23T22:33:00Z","v":2.03e-7,"c":"short","s":"p2"},
        {"t":"2024-03-23T22:47:00Z","v":1.03e-6,"c":"short","s":"p2"},
        {"t":"2024-03-23T22:56:00Z","v":8.5e-7,"c":"short","s":"p2"},
        {"t":"2024-03-23T23:06:00Z","v":1.31e-7,"c":"short","s":"p2"},
        {"t":"2024-03-23T23:20:00Z","v":1.4e-7,"c":"short","s":"p2"},
        {"t":"2024-03-23T23:34:00Z","v":2.5e-6,"c":"short","s":"p2"},
        {"t":"2024-03-23T23:43:00Z","v":4.8e-6,"c":"short","s":"p2"},
        {"t":"2024-03-23T23:58:00Z","v":2.5e-6,"c":"short","s":"p2"},
        {"t":"2024-03-24T00:11:00Z","v":3.35e-7,"c":"short","s":"p2"},
        {"t":"2024-03-24T00:26:00Z","v":1.24e-7,"c":"short","s":"p2"},
        {"t":"2024-03-24T00:40:00Z","v":9.0e-8,"c":"short","s":"p2"},
        {"t":"2024-03-24T00:49:00Z","v":1.71e-6,"c":"short","s":"p2"},
        {"t":"2024-03-24T01:04:00Z","v":1.6e-6,"c":"short","s":"p2"},
        {"t":"2024-03-24T01:17:00Z","v":1.71e-6,"c":"short","s":"p2"},
        {"t":"2024-03-24T01:32:00Z","v":9.1e-7,"c":"short","s":"p2"},
        {"t":"2024-03-24T01:41:00Z","v":3.7e-6,"c":"short","s":"p2"},
        {"t":"2024-03-24T01:55:00Z","v":4.2e-6,"c":"short","s":"p2"},
        {"t":"2024-03-24T02:14:00Z","v":3.93e-6,"c":"short","s":"p2"},
        {"t":"2024-03-24T02:28:00Z","v":2.5e-6,"c":"short","s":"p2"},
        {"t":"2024-03-24T02:42:00Z","v":1.71e-6,"c":"short","s":"p2"},
        {"t":"2024-03-24T03:01:00Z","v":1.41e-6,"c":"short","s":"p2"},
        {"t":"2024-03-24T03:15:00Z","v":5.5e-7,"c":"short","s":"p2"},
        {"t":"2024-03-24T03:29:00Z","v":1.71e-6,"c":"short","s":"p2"},
        {"t":"2024-03-24T03:38:00Z","v":2.6e-7,"c":"short","s":"p2"},
        {"t":"2024-03-24T03:48:00Z","v":1.5e-6,"c":"short","s":"p2"},
        {"t":"2024-03-24T03:57:00Z","v":3.35e-7,"c":"short","s":"p2"},
        {"t":"2024-03-24T04:07:00Z","v":1.8e-7,"c":"short","s":"p2"},
        {"t":"2024-03-24T04:21:00Z","v":1.09e-7,"c":"short","s":"p2"},
        {"t":"2024-03-24T04:35:00Z","v":2.3e-7,"c":"short","s":"p2"},
        {"t":"2024-03-24T04:44:00Z","v":6.2e-8,"c":"short","s":"p2"},
        {"t":"2024-03-24T04:58:00Z","v":1.4e-7,"c":"short","s":"p2"},
        {"t":"2024-03-24T05:13:00Z","v":1.09e-7,"c":"short","s":"p2"},
        {"t":"2024-03-24T05:26:00Z","v":1.24e-7,"c":"short","s":"p2"},
        {"t":"2024-03-24T05:36:00Z","v":3.1e-7,"c":"short","s":"p2"},
        {"t":"2024-03-24T05:45:00Z","v":2.03e-7,"c":"short","s":"p2"},
        {"t":"2024-03-24T05:57:00Z","v":4.8e-6,"c":"short","s":"p2"},
        {"t":"2024-03-24T06:04:00Z","v":7.1e-7,"c":"short","s":"p2"},
        {"t":"2024-03-24T06:14:00Z","v":1.8e-7,"c":"short","s":"p2"},
        {"t":"2024-03-24T06:28:00Z","v":1.49e-7,"c":"short","s":"p2"},
        {"t":"2024-03-24T06:42:00Z","v":1.09e-7,"c":"short","s":"p2"},
        {"t":"2024-03-24T06:56:00Z","v":1.58e-7,"c":"short","s":"p2"},
        {"t":"2024-03-24T07:05:00Z","v":6.6e-7,"c":"short","s":"p2"},
        {"t":"2024-03-24T07:19:00Z","v":9.1e-7,"c":"short","s":"p2"},
        {"t":"2024-03-24T07:29:00Z","v":8.0e-7,"c":"short","s":"p2"},
        {"t":"2024-03-24T07:43:00Z","v":1.82e-6,"c":"short","s":"p2"},
        {"t":"2024-03-24T07:52:00Z","v":1.32e-6,"c":"short","s":"p2"},
        {"t":"2024-03-24T08:07:00Z","v":4.9e-7,"c":"short","s":"p2"},
        {"t":"2024-03-24T08:20:00Z","v":3.35e-7,"c":"short","s":"p2"},
        {"t":"2024-03-24T08:30:00Z","v":2.95e-7,"c":"short","s":"p2"},
        {"t":"2024-03-24T08:35:00Z","v":3.3e-8,"c":"short","s":"p2"},

        {"t":"2024-03-22T00:00:00Z","v":3.4e-6,"c":"long2","s":"r1"},
        {"t":"2024-03-22T00:14:00Z","v":3.2e-6,"c":"long2","s":"r1"},
        {"t":"2024-03-22T00:28:00Z","v":3.7e-6,"c":"long2","s":"r1"},
        {"t":"2024-03-22T00:42:00Z","v":3.4e-6,"c":"long2","s":"r1"},
        {"t":"2024-03-22T00:56:00Z","v":3.7e-6,"c":"long2","s":"r1"},
        {"t":"2024-03-22T01:39:00Z","v":2.9e-6,"c":"long2","s":"r2"},
        {"t":"2024-03-22T01:53:00Z","v":2.6e-6,"c":"long2","s":"r2"},
        {"t":"2024-03-22T02:07:00Z","v":2.5e-6,"c":"long2","s":"r2"},
        {"t":"2024-03-22T02:21:00Z","v":2.6e-6,"c":"long2","s":"r2"},
        {"t":"2024-03-22T02:35:00Z","v":2.4e-6,"c":"long2","s":"r2"},
        {"t":"2024-03-22T02:54:00Z","v":2.0e-6,"c":"long2","s":"r2"},
        {"t":"2024-03-22T07:27:00Z","v":3.1e-6,"c":"long2","s":"r3"},
        {"t":"2024-03-22T07:41:00Z","v":2.6e-6,"c":"long2","s":"r3"},
        {"t":"2024-03-22T07:55:00Z","v":2.4e-6,"c":"long2","s":"r3"},
        {"t":"2024-03-22T08:14:00Z","v":2.5e-6,"c":"long2","s":"r3"},
        {"t":"2024-03-22T08:33:00Z","v":2.4e-6,"c":"long2","s":"r3"},
        {"t":"2024-03-22T08:51:00Z","v":2.7e-6,"c":"long2","s":"r3"},
        {"t":"2024-03-22T09:10:00Z","v":2.4e-6,"c":"long2","s":"r3"},
        {"t":"2024-03-22T09:29:00Z","v":2.5e-6,"c":"long2","s":"r3"},
        {"t":"2024-03-22T10:44:00Z","v":2.9e-6,"c":"long2","s":"r4"},
        {"t":"2024-03-22T11:03:00Z","v":3.5e-6,"c":"long2","s":"r4"},
        {"t":"2024-03-22T11:13:00Z","v":4.6e-6,"c":"long2","s":"r4"},
        {"t":"2024-03-22T11:26:00Z","v":3.5e-6,"c":"long2","s":"r4"},
        {"t":"2024-03-22T11:41:00Z","v":2.9e-6,"c":"long2","s":"r4"},
        {"t":"2024-03-22T13:33:00Z","v":6.6e-6,"c":"long2","s":"r5"},
        {"t":"2024-03-22T13:48:00Z","v":9.2e-6,"c":"long2","s":"r5"},
        {"t":"2024-03-22T14:02:00Z","v":8.0e-6,"c":"long2","s":"r5"},
        {"t":"2024-03-23T08:29:00Z","v":7.9e-6,"c":"long2","s":"r6"},
        {"t":"2024-03-23T08:36:00Z","v":6.55e-6,"c":"long2","s":"r6"},
        {"t":"2024-03-23T08:50:00Z","v":7.45e-6,"c":"long2","s":"r6"},
        {"t":"2024-03-23T09:01:00Z","v":8.5e-6,"c":"long2","s":"r6"},
        {"t":"2024-03-23T09:13:00Z","v":6.55e-6,"c":"long2","s":"r6"},
        {"t":"2024-03-23T09:27:00Z","v":4.47e-6,"c":"long2","s":"r6"},
        {"t":"2024-03-23T09:41:00Z","v":3.93e-6,"c":"long2","s":"r6"},
        {"t":"2024-03-23T09:48:00Z","v":3.93e-6,"c":"long2","s":"r6"},
        {"t":"2024-03-24T08:30:00Z","v":6.55e-6,"c":"long2","s":"r7"},
        {"t":"2024-03-24T08:44:00Z","v":6.15e-6,"c":"long2","s":"r7"},
        {"t":"2024-03-24T08:53:00Z","v":5.1e-6,"c":"long2","s":"r7"},
        {"t":"2024-03-24T09:08:00Z","v":4.8e-6,"c":"long2","s":"r7"},

        {"t":"2024-03-22T00:00:00Z","v":1.42e-7,"c":"short2","s":"b1"},
        {"t":"2024-03-22T00:14:00Z","v":1.25e-7,"c":"short2","s":"b1"},
        {"t":"2024-03-22T00:28:00Z","v":8.6e-8,"c":"short2","s":"b1"},
        {"t":"2024-03-22T00:42:00Z","v":1.42e-7,"c":"short2","s":"b1"},
        {"t":"2024-03-22T00:56:00Z","v":1.6e-7,"c":"short2","s":"b1"},
        {"t":"2024-03-22T01:11:00Z","v":1.25e-7,"c":"short2","s":"b1"},
        {"t":"2024-03-22T01:25:00Z","v":1.6e-7,"c":"short2","s":"b1"},
        {"t":"2024-03-22T01:39:00Z","v":8.6e-8,"c":"short2","s":"b1"},
        {"t":"2024-03-22T01:53:00Z","v":3.7e-8,"c":"short2","s":"b1"},
        {"t":"2024-03-22T02:07:00Z","v":1.25e-7,"c":"short2","s":"b1"},
        {"t":"2024-03-22T02:17:00Z","v":5.1e-8,"c":"short2","s":"b1"},
        {"t":"2024-03-22T02:31:00Z","v":6.6e-8,"c":"short2","s":"b1"},
        {"t":"2024-03-22T02:45:00Z","v":6.2e-8,"c":"short2","s":"b1"},
        {"t":"2024-03-22T03:03:00Z","v":4.2e-8,"c":"short2","s":"b1"},
        {"t":"2024-03-22T03:22:00Z","v":4.2e-8,"c":"short2","s":"b1"},
        {"t":"2024-03-22T03:36:00Z","v":1.1e-7,"c":"short2","s":"b1"},
        {"t":"2024-03-22T03:59:00Z","v":9.8e-8,"c":"short2","s":"b1"},
        {"t":"2024-03-22T04:14:00Z","v":6.2e-8,"c":"short2","s":"b1"},
        {"t":"2024-03-22T04:28:00Z","v":5.5e-8,"c":"short2","s":"b1"},
        {"t":"2024-03-22T04:42:00Z","v":1.1e-7,"c":"short2","s":"b1"},
        {"t":"2024-03-22T07:27:00Z","v":8.6e-8,"c":"short2","s":"b2"},
        {"t":"2024-03-22T07:41:00Z","v":5.85e-8,"c":"short2","s":"b2"},
        {"t":"2024-03-22T07:55:00Z","v":5.1e-8,"c":"short2","s":"b2"},
        {"t":"2024-03-22T08:14:00Z","v":8.6e-8,"c":"short2","s":"b2"},
        {"t":"2024-03-22T08:33:00Z","v":5.85e-8,"c":"short2","s":"b2"},
        {"t":"2024-03-22T08:51:00Z","v":7.5e-8,"c":"short2","s":"b2"},
        {"t":"2024-03-22T09:10:00Z","v":4.5e-8,"c":"short2","s":"b2"},
        {"t":"2024-03-22T09:29:00Z","v":7.1e-8,"c":"short2","s":"b2"},
        {"t":"2024-03-22T09:48:00Z","v":6.6e-8,"c":"short2","s":"b2"},
        {"t":"2024-03-22T10:07:00Z","v":9.1e-8,"c":"short2","s":"b2"},
        {"t":"2024-03-22T10:25:00Z","v":8.6e-8,"c":"short2","s":"b2"},
        {"t":"2024-03-22T10:44:00Z","v":1.42e-7,"c":"short2","s":"b2"},
        {"t":"2024-03-22T10:54:00Z","v":9.8e-8,"c":"short2","s":"b2"},
        {"t":"2024-03-22T11:08:00Z","v":2.06e-7,"c":"short2","s":"b2"},
        {"t":"2024-03-22T11:22:00Z","v":1.42e-7,"c":"short2","s":"b2"},
        {"t":"2024-03-22T11:36:00Z","v":5.85e-8,"c":"short2","s":"b2"},
        {"t":"2024-03-22T13:48:00Z","v":8.6e-7,"c":"short2","s":"b3"},
        {"t":"2024-03-22T13:55:00Z","v":8.1e-7,"c":"short2","s":"b3"},
        {"t":"2024-03-22T14:09:00Z","v":3.8e-7,"c":"short2","s":"b3"},
        {"t":"2024-03-22T14:25:00Z","v":4.9e-7,"c":"short2","s":"b3"},
        {"t":"2024-03-22T14:35:00Z","v":5.6e-7,"c":"short2","s":"b3"},
        {"t":"2024-03-23T08:31:00Z","v":3.35e-7,"c":"short2","s":"b4"},
        {"t":"2024-03-23T08:40:00Z","v":3.35e-7,"c":"short2","s":"b4"},
        {"t":"2024-03-23T08:54:00Z","v":8.5e-7,"c":"short2","s":"b4"},
        {"t":"2024-03-23T09:09:00Z","v":6.2e-7,"c":"short2","s":"b4"},
        {"t":"2024-03-23T09:23:00Z","v":1.4e-7,"c":"short2","s":"b4"},
        {"t":"2024-03-23T09:37:00Z","v":1.16e-7,"c":"short2","s":"b4"},
        {"t":"2024-03-23T09:51:00Z","v":1.31e-7,"c":"short2","s":"b4"},
        {"t":"2024-03-23T09:56:00Z","v":1.31e-7,"c":"short2","s":"b4"},
        {"t":"2024-03-24T08:30:00Z","v":2.95e-7,"c":"short2","s":"b5"},
        {"t":"2024-03-24T08:44:00Z","v":2.03e-7,"c":"short2","s":"b5"},
        {"t":"2024-03-24T08:53:00Z","v":2.3e-7,"c":"short2","s":"b5"},
        {"t":"2024-03-24T09:08:00Z","v":1.8e-7,"c":"short2","s":"b5"}
      ]},
      "resolve": {"axis": {"x": "independent", "y": "independent"}},
      "layer": [
        {
          "data": {"values": [{"t": "2024-03-23T00:00:00Z"}, {"t": "2024-03-24T00:00:00Z"}]},
          "mark": {"type": "rule", "color": "#7f7f7f", "strokeWidth": 1.5},
          "encoding": {
            "x": {"field": "t", "type": "temporal", "scale": {"type": "utc", "domain": [1711065600000, 1711324800000]},
              "axis": {"orient": "bottom", "values": [1711065600000, 1711152000000, 1711238400000, 1711324800000], "labelExpr": "utcFormat(datum.value, '%b %d')", "ticks": false, "domain": false, "grid": false, "labelFlush": false, "labelOverlap": false, "labelFontSize": 34, "labelColor": "#666666", "labelPadding": 67, "title": null}},
            "y": {"datum": 0.01, "type": "quantitative", "scale": {"type": "log", "domain": [1e-9, 1e-2]},
              "axis": {"orient": "right", "values": [2.4e-4, 2.4e-5, 2.4e-6, 2.4e-7, 2.4e-8],
                "labelExpr": "datum.value > 1e-4 ? 'X' : datum.value > 1e-5 ? 'M' : datum.value > 1e-6 ? 'C' : datum.value > 1e-7 ? 'B' : 'A'",
                "ticks": false, "grid": false, "domain": true, "domainColor": "#ccd6eb", "domainWidth": 1.5,
                "labelFont": "DejaVu Sans Mono", "labelFontWeight": "bold", "labelFontSize": 19, "labelColor": "#000000", "labelPadding": 13,
                "title": "Xray Flare Class", "titleFont": "Open Sans", "titleFontSize": 37, "titleFontWeight": "normal", "titleColor": "#000000", "titlePadding": 20}},
            "y2": {"datum": 2.2e-9}
          }
        },
        {
          "transform": [{"filter": "datum.c == 'long2' || datum.c == 'short2'"}],
          "mark": {"type": "line", "strokeWidth": 3, "strokeJoin": "round"},
          "encoding": {
            "x": {"field": "t", "type": "temporal",
              "axis": {"orient": "bottom", "values": [1711072800000,1711080000000,1711087200000,1711101600000,1711108800000,1711116000000,1711130400000,1711137600000,1711144800000,1711159200000,1711166400000,1711173600000,1711188000000,1711195200000,1711202400000,1711216800000,1711224000000,1711231200000,1711245600000,1711252800000,1711260000000,1711274400000,1711281600000,1711288800000,1711303200000,1711310400000,1711317600000], "offset": -8, "tickSize": 8, "labels": false, "domain": false, "grid": false, "tickColor": "#999999", "tickWidth": 1.5, "title": null}},
            "y": {"field": "v", "type": "quantitative",
              "axis": {"orient": "left", "values": [2e-9,3e-9,4e-9,5e-9,6e-9,7e-9,8e-9,9e-9,2e-8,3e-8,4e-8,5e-8,6e-8,7e-8,8e-8,9e-8,2e-7,3e-7,4e-7,5e-7,6e-7,7e-7,8e-7,9e-7,2e-6,3e-6,4e-6,5e-6,6e-6,7e-6,8e-6,9e-6,2e-5,3e-5,4e-5,5e-5,6e-5,7e-5,8e-5,9e-5,2e-4,3e-4,4e-4,5e-4,6e-4,7e-4,8e-4,9e-4,2e-3,3e-3,4e-3,5e-3,6e-3,7e-3,8e-3,9e-3], "offset": -7, "tickSize": 7, "labels": false, "domain": false, "grid": false, "tickColor": "#999999", "tickWidth": 1.2, "title": null}},
            "color": {"field": "c", "type": "nominal", "scale": {"domain": ["long2", "short2"], "range": ["#ff0000", "#0030ff"]}, "legend": null},
            "detail": {"field": "s"}
          }
        },
        {
          "transform": [{"filter": "datum.c == 'long'"}],
          "mark": {"type": "line", "strokeWidth": 3.5, "strokeJoin": "round", "color": "#ffa500"},
          "encoding": {
            "x": {"field": "t", "type": "temporal",
              "axis": {"orient": "bottom", "values": [1711065600000, 1711094400000, 1711123200000, 1711152000000, 1711180800000, 1711209600000, 1711238400000, 1711267200000, 1711296000000, 1711324800000], "labelExpr": "utcFormat(datum.value, '%H:%M')", "ticks": false, "labelFlush": false, "labelOverlap": false, "labelFontSize": 34, "labelColor": "#666666", "labelPadding": 19, "domainColor": "#ccd6eb", "domainWidth": 2, "grid": false, "title": "Universal Time", "titleFontSize": 33, "titleFontWeight": "normal", "titleColor": "#666666", "titlePadding": 77}},
            "y": {"field": "v", "type": "quantitative",
              "axis": {"orient": "left", "values": [1e-9, 1e-8, 1e-7, 1e-6, 1e-5, 1e-4, 1e-3, 1e-2], "labelExpr": "datum.value > 5e-3 ? '10⁻²' : datum.value > 5e-4 ? '10⁻³' : datum.value > 5e-5 ? '10⁻⁴' : datum.value > 5e-6 ? '10⁻⁵' : datum.value > 5e-7 ? '10⁻⁶' : datum.value > 5e-8 ? '10⁻⁷' : datum.value > 5e-9 ? '10⁻⁸' : '10⁻⁹'", "ticks": false, "labelFontSize": 34, "labelColor": "#666666", "labelPadding": 33, "labelOffset": -7, "domainColor": "#999999", "domainWidth": 1.5, "grid": true, "gridColor": "#e6e6e6", "gridWidth": 1.5, "title": "Watts · m⁻²", "titleFontSize": 40, "titleFontWeight": "normal", "titleColor": "#666666", "titlePadding": 22}},
            "detail": {"field": "s"}
          }
        },
        {
          "transform": [{"filter": "datum.c == 'short'"}],
          "mark": {"type": "line", "strokeWidth": 3.5, "strokeJoin": "round", "color": "#5200aa"},
          "encoding": {
            "x": {"field": "t", "type": "temporal",
              "axis": {"orient": "bottom", "values": [1711065600000, 1711094400000, 1711123200000, 1711152000000, 1711180800000, 1711209600000, 1711238400000, 1711267200000, 1711296000000, 1711324800000], "offset": -21, "tickSize": 21, "labels": false, "domain": false, "grid": false, "tickColor": "#ccd6eb", "tickWidth": 1.5, "title": null}},
            "y": {"field": "v", "type": "quantitative",
              "axis": {"orient": "left", "values": [1e-9, 1e-8, 1e-7, 1e-6, 1e-5, 1e-4, 1e-3, 1e-2], "offset": -10, "tickSize": 10, "labels": false, "domain": false, "grid": false, "tickColor": "#222222", "tickWidth": 2, "title": null}},
            "detail": {"field": "s"}
          }
        }
      ]
    }
  ]
}
